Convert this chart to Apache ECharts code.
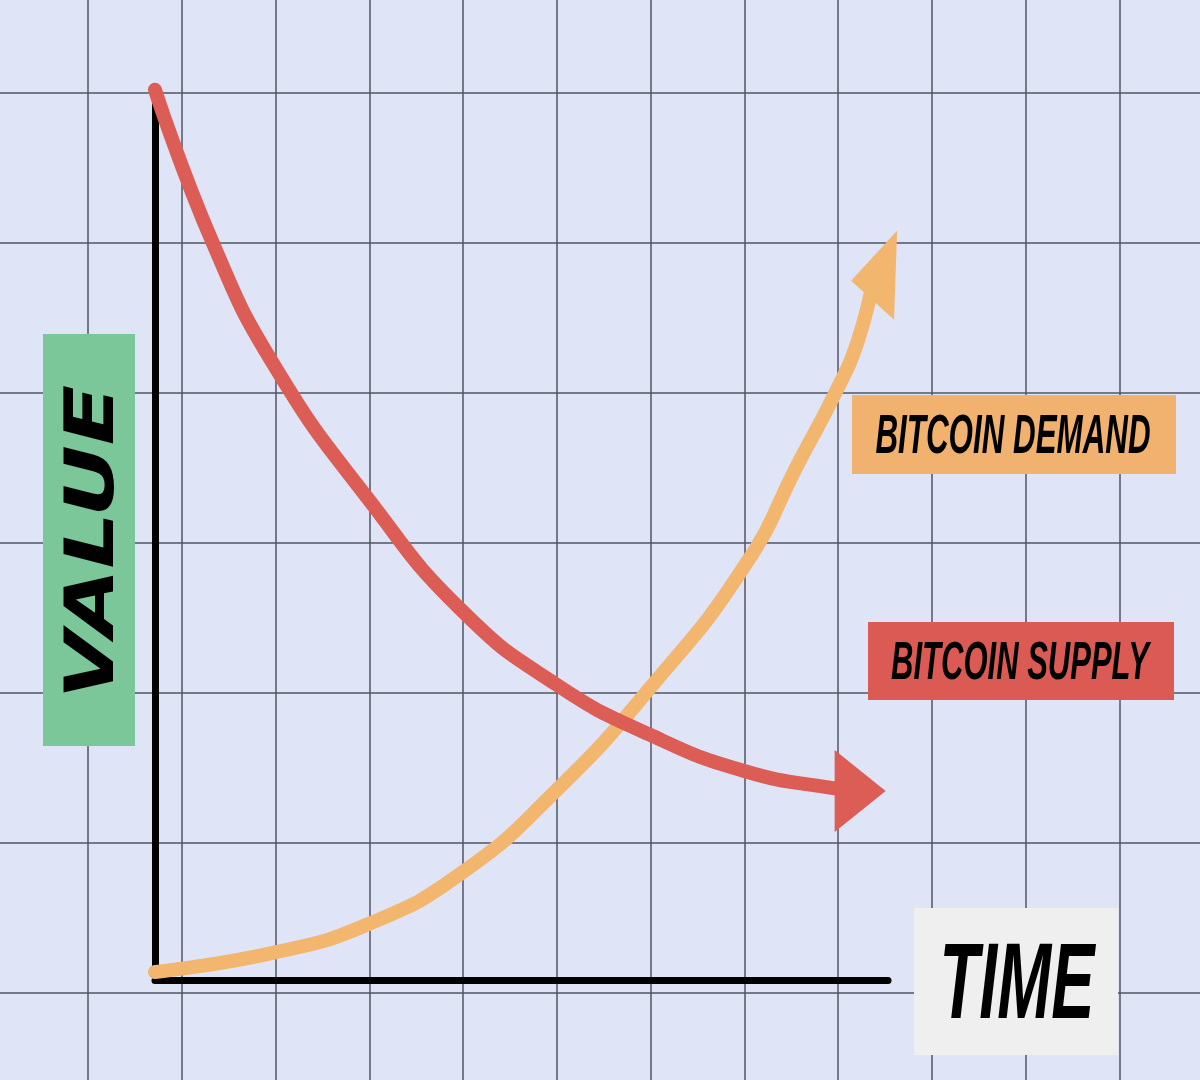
<!DOCTYPE html>
<html>
  <head>
    <meta charset="utf-8">
    <title>Bitcoin supply and demand</title>
    <style>
    html, body {margin:0; padding:0; background:#dfe5f7;}
    .box {width:1200px; height:1080px;}
    </style>
    <script src="https://cdn.jsdelivr.net/npm/echarts@6/dist/echarts.min.js"></script>
  </head>
  <body>
    <div class="box" id="main"></div>
    <script>
    // supply falls off over time, demand climbs (arbitrary 0-100 units)
    let supplyTime  = [0, 7.9, 16.4, 29.2, 42.0, 54.8, 67.5, 80.5, 92.5, 96.2];
    let supplyValue = [99.8, 82.6, 68.7, 53.8, 41.3, 33.1, 27.5, 23.4, 21.5, 21.2];
    let demandTime  = [0, 16.4, 29.2, 42.0, 54.8, 67.5, 80.5, 88.0, 92.8, 95.9, 98.1];
    let demandValue = [0.9, 3.1, 6.3, 12.1, 21.3, 32.7, 46.5, 58.3, 65.8, 71.7, 79.0];

    let labels = {value:'VALUE', time:'TIME', demand:'BITCOIN DEMAND', supply:'BITCOIN SUPPLY'};

    let zip = (xs, ys) => xs.map((x, i) => [x, ys[i]]);
    let last = arr => [arr[arr.length - 1]];

    let supplyData = zip(supplyTime, supplyValue);
    let demandData = zip(demandTime, demandValue);

    let chart = echarts.init(document.getElementById('main'));

    let hidden = {
      axisLine:{show:false}, axisTick:{show:false}, axisLabel:{show:false}
    };
    let gridLine = {show:true, lineStyle:{color:'#4f5462', width:1.5}};
    let blackAxis = {show:true, lineStyle:{color:'#000', width:7, cap:'round'}};

    let option = {
      backgroundColor:'#dfe5f7',
      animation:false,
      grid:[
        // paper grid behind everything (runs past the page edges)
        {left:-5.8, top:-57, width:1219, height:1200, outerBoundsMode:'none', containLabel:false},
        // the chart itself
        {left:155, top:88, width:733, height:892, outerBoundsMode:'none', containLabel:false}
      ],
      xAxis:[
        Object.assign({type:'value', gridIndex:0, min:0, max:13, interval:1, splitLine:gridLine}, hidden),
        {type:'value', gridIndex:1, min:0, max:100, axisLine:blackAxis,
         axisTick:{show:false}, axisLabel:{show:false}, splitLine:{show:false}}
      ],
      yAxis:[
        Object.assign({type:'value', gridIndex:0, min:0, max:8, interval:1, splitLine:gridLine}, hidden),
        {type:'value', gridIndex:1, min:0, max:100, axisLine:blackAxis,
         axisTick:{show:false}, axisLabel:{show:false}, splitLine:{show:false}}
      ],
      series:[
        {
          name:labels.demand, type:'line', xAxisIndex:1, yAxisIndex:1,
          data:demandData, smooth:0.5, symbol:'none', clip:false,
          lineStyle:{color:'#f2b66f', width:14, cap:'round'}, z:3
        },
        {
          name:labels.supply, type:'line', xAxisIndex:1, yAxisIndex:1,
          data:supplyData, smooth:0.5, symbol:'none', clip:false,
          lineStyle:{color:'#dc5d55', width:14, cap:'round'}, z:4
        },
        {
          // slightly skewed arrow head, as drawn in the picture
          type:'scatter', xAxisIndex:1, yAxisIndex:1, data:last(demandData), clip:false,
          symbol:'path://M46,0 L0,50 L43,89 Z', symbolSize:[46, 89],
          itemStyle:{color:'#f2b66f', opacity:1}, z:3
        },
        {
          type:'scatter', xAxisIndex:1, yAxisIndex:1, data:last(supplyData), clip:false,
          symbol:'triangle', symbolSize:[82, 51], symbolRotate:-90,
          itemStyle:{color:'#dc5d55', opacity:1}, z:4
        }
      ],
      graphic:[
        {type:'rect', shape:{x:43, y:334, width:92, height:412}, style:{fill:'#7cc79a'}, z:10},
        {type:'text', x:95, y:542, rotation:Math.PI/2, scaleX:1.3, z:11,
         style:{text:labels.value, font:'italic bold 68px "DejaVu Sans"', fill:'#000',
                textAlign:'center', textVerticalAlign:'middle', align:'center', verticalAlign:'middle'}},

        {type:'rect', shape:{x:852, y:395, width:324, height:79}, style:{fill:'#f0b26e'}, z:10},
        {type:'text', x:1013, y:438, scaleX:0.57, z:11,
         style:{text:labels.demand, font:'italic bold 55px "Liberation Sans"', fill:'#000',
                textAlign:'center', textVerticalAlign:'middle', align:'center', verticalAlign:'middle'}},

        {type:'rect', shape:{x:868, y:622, width:306, height:78}, style:{fill:'#db5b54'}, z:10},
        {type:'text', x:1020, y:664, scaleX:0.585, z:11,
         style:{text:labels.supply, font:'italic bold 53px "Liberation Sans"', fill:'#000',
                textAlign:'center', textVerticalAlign:'middle', align:'center', verticalAlign:'middle'}},

        {type:'rect', shape:{x:914, y:908, width:204, height:147}, style:{fill:'#efefef'}, z:10},
        {type:'text', x:1017, y:988, scaleX:0.6, z:11,
         style:{text:labels.time, font:'italic bold 108px "Liberation Sans"', fill:'#000',
                textAlign:'center', textVerticalAlign:'middle', align:'center', verticalAlign:'middle'}}
      ]
    };

    chart.setOption(option);
    </script>
  </body>
</html>
